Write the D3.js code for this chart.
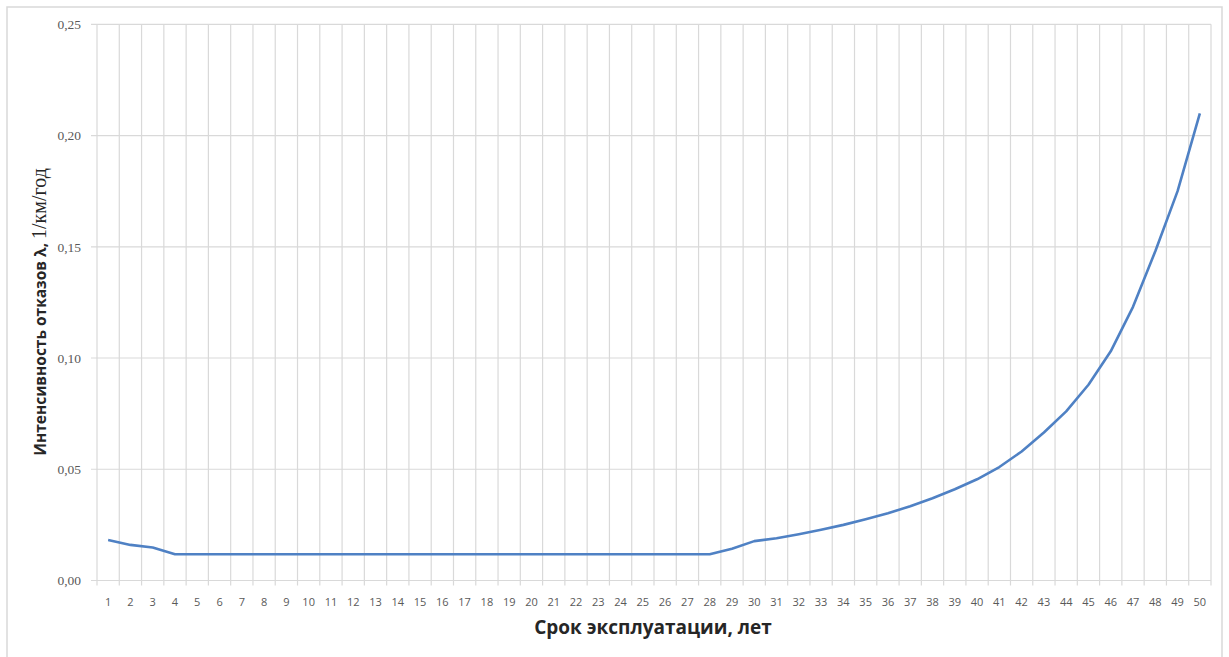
<!DOCTYPE html>
<html><head><meta charset="utf-8">
<script src="https://cdn.jsdelivr.net/npm/d3@7"></script>
<style>body{margin:0;background:#fff;} svg{display:block;}</style>
</head><body>
<svg id="c" width="1229" height="657"></svg>
<script>
const years = d3.range(1, 51);
const lambda = [
  0.0182, 0.0160, 0.0148, 0.0118, 0.0118, 0.0118, 0.0118, 0.0118, 0.0118, 0.0118,
  0.0118, 0.0118, 0.0118, 0.0118, 0.0118, 0.0118, 0.0118, 0.0118, 0.0118, 0.0118,
  0.0118, 0.0118, 0.0118, 0.0118, 0.0118, 0.0118, 0.0118, 0.0118, 0.0143, 0.0177,
  0.0190, 0.0208, 0.0228, 0.0250, 0.0275, 0.0302, 0.0334, 0.0370, 0.0410, 0.0455,
  0.0510, 0.0580, 0.0665, 0.0760, 0.0880, 0.1030, 0.1230, 0.1480, 0.1750, 0.2100
];
const yTicks = [0, 0.05, 0.10, 0.15, 0.20, 0.25];
const xTitle = "Срок эксплуатации, лет";
const yTitleMain = "Интенсивность отказов λ, ";
const yTitleUnit = "1/км/год";

const svg = d3.select("#c");
const L = 97, R = 1211, T = 24.3, B = 580.5;

svg.append("rect").attr("x", 7).attr("y", 7).attr("width", 1215).attr("height", 660)
  .attr("fill", "#fff").attr("stroke", "#d9d9d9").attr("stroke-width", 1.5);

const x = d3.scaleBand().domain(years).range([L, R]).padding(0);
const y = d3.scaleLinear().domain([0, 0.25]).range([B, T]);
const fmt = v => d3.format(".2f")(v).replace(".", ",");

// horizontal gridlines
svg.append("g").selectAll("line").data(yTicks).join("line")
  .attr("x1", L - 6).attr("x2", R).attr("y1", d => y(d)).attr("y2", d => y(d))
  .attr("stroke", "#d9d9d9").attr("stroke-width", 1.2);

// vertical gridlines at category boundaries
const bounds = years.map(d => x(d)).concat([x(years[years.length - 1]) + x.bandwidth()]);
svg.append("g").selectAll("line").data(bounds).join("line")
  .attr("x1", d => d).attr("x2", d => d).attr("y1", T).attr("y2", B + 5)
  .attr("stroke", "#d9d9d9").attr("stroke-width", 1.2);

// y tick labels
svg.append("g").selectAll("text").data(yTicks).join("text")
  .attr("x", 81).attr("y", d => y(d)).attr("dy", "0.35em").attr("text-anchor", "end")
  .attr("font-family", "Liberation Serif, serif").attr("font-size", 13.5).attr("fill", "#595959")
  .text(fmt);

// x tick labels
svg.append("g").selectAll("text").data(years).join("text")
  .attr("x", d => x(d) + x.bandwidth() / 2).attr("y", 602).attr("dy", "0.35em")
  .attr("text-anchor", "middle")
  .attr("font-family", "Open Sans, sans-serif").attr("font-size", 11).attr("fill", "#595959")
  .text(d => d);

// line
const line = d3.line().x((d, i) => x(years[i]) + x.bandwidth() / 2).y(d => y(d));
svg.append("path").datum(lambda).attr("d", line)
  .attr("fill", "none").attr("stroke", "#4f81c4").attr("stroke-width", 2.6)
  .attr("stroke-linejoin", "round");

// x title
svg.append("text").attr("x", 653).attr("y", 634).attr("text-anchor", "middle")
  .attr("font-family", "Open Sans, sans-serif").attr("font-weight", "bold").attr("font-size", 19)
  .attr("fill", "#262626").text(xTitle);

// y title
const yt = svg.append("text").attr("transform", "translate(46,312) rotate(-90)")
  .attr("text-anchor", "middle").attr("fill", "#262626");
yt.append("tspan").attr("font-family", "Open Sans, sans-serif").attr("font-weight", "bold")
  .attr("font-size", 15.5).text(yTitleMain);
yt.append("tspan").attr("font-family", "Liberation Serif, serif").attr("font-size", 20)
  .text(yTitleUnit);
</script>
</body></html>
